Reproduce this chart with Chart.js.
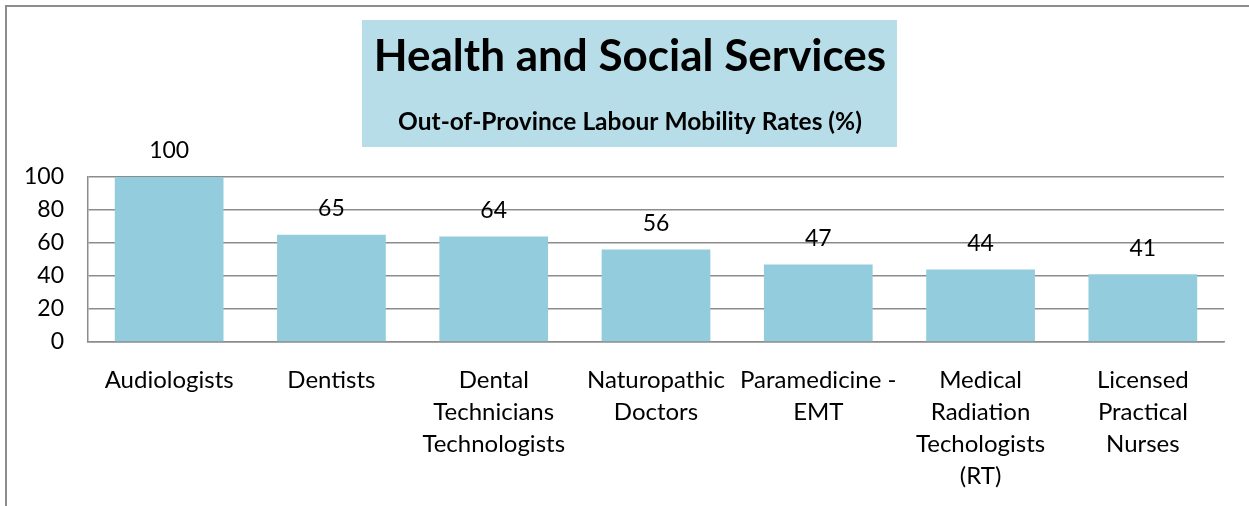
<!DOCTYPE html>
<html>
<head>
<meta charset="utf-8">
<script src="https://cdn.jsdelivr.net/npm/chart.js@4"></script>
<style>
  html, body { margin: 0; padding: 0; background: #fff; }
  #wrap { width: 1249px; height: 506px; position: relative; }
</style>
</head>
<body>
<div id="wrap"><canvas id="chart"></canvas></div>
<script>
const categories = [
    "Audiologists",
    "Dentists",
    ["Dental", "Technicians", "Technologists"],
    ["Naturopathic", "Doctors"],
    ["Paramedicine -", "EMT"],
    ["Medical", "Radiation", "Techologists", "(RT)"],
    ["Licensed", "Practical", "Nurses"]
];
const rates = [100, 65, 64, 56, 47, 44, 41];
const yTicks = [0, 20, 40, 60, 80, 100];

const titleText = "Health and Social Services";
const subtitleText = "Out-of-Province Labour Mobility Rates (%)";

const FONT = "Lato, 'Open Sans', sans-serif";

// frame + title box + value labels
const decor = {
    id: "decor",
    beforeDraw(chart) {
        const c = chart.ctx;
        c.save();
        c.fillStyle = "#fff";
        c.fillRect(0, 0, chart.width, chart.height);
        c.strokeStyle = "#8c8c8c";
        c.lineWidth = 2;
        c.beginPath();
        c.moveTo(6, chart.height);
        c.lineTo(6, 6);
        c.lineTo(chart.width, 6);
        c.stroke();

        c.fillStyle = "#B7DEE8";
        c.fillRect(362, 20, 535, 127);
        c.fillStyle = "#000";
        c.textAlign = "center";
        c.textBaseline = "middle";
        c.font = "bold 44px " + FONT;
        c.fillText(titleText, 630, 57);
        c.font = "bold 24.5px " + FONT;
        c.fillText(subtitleText, 630, 122);
        c.restore();
    },
    afterDatasetsDraw(chart) {
        const c = chart.ctx;
        const meta = chart.getDatasetMeta(0);
        c.save();
        c.fillStyle = "#000";
        c.font = "23px " + FONT;
        c.textAlign = "center";
        c.textBaseline = "middle";
        meta.data.forEach((bar, i) => {
            c.fillText(String(rates[i]), bar.x, bar.y - 26);
        });
        c.restore();
    }
};

const ctx = document.getElementById("chart");

const chart = new Chart(ctx, {
    type: "bar",
    data: {
        labels: categories,
        datasets: [{
            data: rates,
            backgroundColor: "#93CDDD",
            borderWidth: 0,
            categoryPercentage: 1,
            barPercentage: 0.67
        }]
    },
    options: {
        responsive: true,
        maintainAspectRatio: false,
        animation: false,
        layout: {
            padding: { top: 177, right: 25, bottom: 0, left: 0 }
        },
        plugins: {
            legend: { display: false },
            tooltip: { enabled: false },
            title: { display: false }
        },
        scales: {
            x: {
                grid: { display: false },
                border: { display: true, color: "#8c8c8c", width: 1.5 },
                ticks: {
                    color: "#000",
                    padding: 14,
                    maxRotation: 0,
                    autoSkip: false,
                    font: { family: FONT, size: 24, lineHeight: 1.333 }
                },
                afterFit(scale) { scale.height = 164; }
            },
            y: {
                min: 0,
                max: 100,
                afterBuildTicks(scale) {
                    scale.ticks = yTicks.map(v => ({ value: v }));
                },
                grid: {
                    color: "#8c8c8c",
                    lineWidth: 1.5,
                    drawTicks: false
                },
                border: { display: true, color: "#8c8c8c", width: 1.5 },
                ticks: {
                    color: "#000",
                    padding: 24,
                    font: { family: FONT, size: 23 }
                },
                afterFit(scale) { scale.width = 88; }
            }
        }
    },
    plugins: [decor]
});
</script>
</body>
</html>
